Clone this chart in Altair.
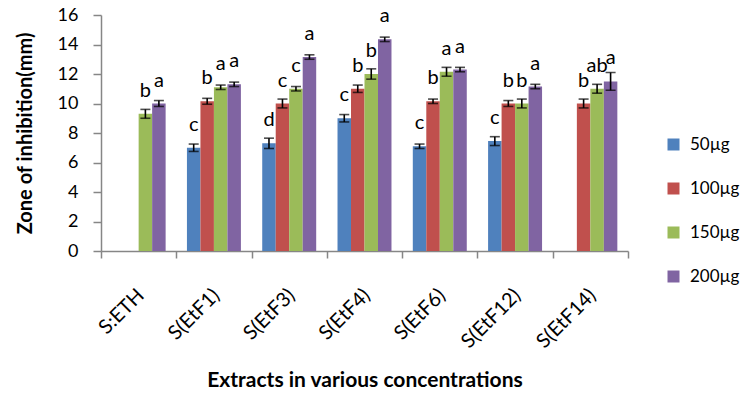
import altair as alt
import pandas as pd

extracts = ["S:ETH", "S(EtF1)", "S(EtF3)", "S(EtF4)", "S(EtF6)", "S(EtF12)", "S(EtF14)"]
concs = ["50µg", "100µg", "150µg", "200µg"]
colors = ["#4F81BD", "#C0504D", "#9BBB59", "#8064A2"]

v50 = [None, 7.0, 7.3, 9.0, 7.1, 7.45, None]
v100 = [None, 10.15, 10.0, 11.0, 10.15, 10.0, 10.0]
v150 = [9.3, 11.1, 11.0, 12.0, 12.15, 10.0, 11.0]
v200 = [10.0, 11.3, 13.15, 14.35, 12.3, 11.15, 11.5]

e50 = [None, 0.25, 0.35, 0.25, 0.15, 0.3, None]
e100 = [None, 0.2, 0.3, 0.25, 0.15, 0.2, 0.3]
e150 = [0.3, 0.15, 0.15, 0.35, 0.3, 0.3, 0.3]
e200 = [0.2, 0.15, 0.15, 0.15, 0.15, 0.15, 0.6]

l50 = ["", "c", "d", "c", "c", "c", ""]
l100 = ["", "b", "c", "b", "b", "b", "b"]
l150 = ["b", "a", "c", "b", "a", "b", "ab"]
l200 = ["a", "a", "a", "a", "a", "a", "a"]

y_ticks = [0, 2, 4, 6, 8, 10, 12, 14, 16]

rows = []
for c, vals, errs, lets in zip(concs, [v50, v100, v150, v200], [e50, e100, e150, e200], [l50, l100, l150, l200]):
    for e, v, er, l in zip(extracts, vals, errs, lets):
        if v is None:
            continue
        rows.append(dict(extract=e, conc=c, value=v, lo=v - er, hi=v + er, letter=l))
df = pd.DataFrame(rows)

FONT = "Lato"
GRAY = "#868686"

base = alt.Chart(df).encode(
    x=alt.X(
        "extract:N",
        sort=extracts,
        scale=alt.Scale(domain=extracts, paddingInner=0, paddingOuter=0),
        axis=alt.Axis(
            title="Extracts in various concentrations",
            titleFont=FONT, titleFontSize=21, titleFontWeight="bold", titleColor="black",
            titlePadding=18,
            labelFont=FONT, labelFontSize=20, labelColor="black", labelAngle=-45,
            labelAlign="right", labelBaseline="middle",
            labelPadding=34, labelOffset=2,
            tickBand="extent", tickSize=7, tickColor=GRAY, domainColor=GRAY,
            tickWidth=1.5, domainWidth=1.5,
        ),
    ),
    xOffset=alt.XOffset("conc:N", sort=concs, scale=alt.Scale(domain=concs, paddingOuter=0.79, paddingInner=0)),
)

bars = base.mark_bar().encode(
    y=alt.Y(
        "value:Q",
        scale=alt.Scale(domain=[0, 16]),
        axis=alt.Axis(
            values=y_ticks, tickCount=9, grid=False, labelOverlap=False,
            title="Zone of inhibition(mm)",
            titleFont=FONT, titleFontSize=20, titleFontWeight="bold", titleColor="black",
            titlePadding=22,
            labelFont=FONT, labelFontSize=18, labelColor="black",
            tickSize=8, tickColor=GRAY, domainColor=GRAY, labelPadding=15,
            tickWidth=1.5, domainWidth=1.5,
        ),
    ),
    color=alt.Color(
        "conc:N",
        sort=concs,
        scale=alt.Scale(domain=concs, range=colors),
        legend=alt.Legend(
            title=None, orient="none", legendX=564, legendY=121,
            symbolType="square", symbolSize=144, symbolStrokeWidth=0,
            labelFont=FONT, labelFontSize=17, labelColor="black",
            rowPadding=26, labelOffset=8,
        ),
    ),
)

err = base.mark_rule(color="black", strokeWidth=1.6).encode(y="lo:Q", y2="hi:Q")
cap_lo = base.mark_tick(color="black", thickness=1.6, size=10).encode(y="lo:Q")
cap_hi = base.mark_tick(color="black", thickness=1.6, size=10).encode(y="hi:Q")
labels = base.mark_text(dy=-17, fontSize=20, font=FONT, color="black", baseline="alphabetic").encode(
    y="value:Q", text="letter:N"
)

chart = (
    alt.layer(bars, err, cap_lo, cap_hi, labels)
    .properties(
        width=527,
        height=236,
        autosize=alt.AutoSizeParams(type="none"),
        padding={"left": 93, "top": 7, "right": 115, "bottom": 140},
    )
    .configure_view(stroke=None)
)

chart.save("out.html", embed_options={"renderer": "svg", "actions": False})
